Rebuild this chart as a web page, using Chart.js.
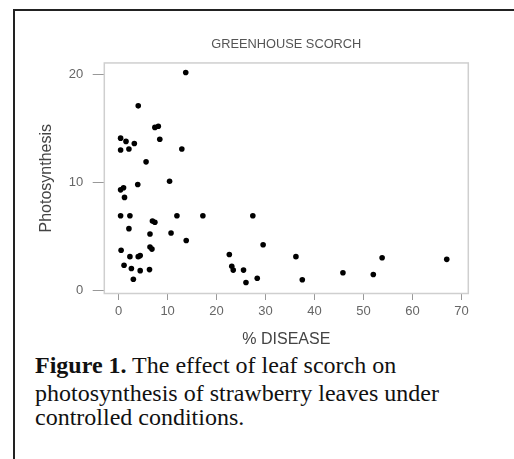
<!DOCTYPE html>
<html>
<head>
<meta charset="utf-8">
<script src="https://cdn.jsdelivr.net/npm/chart.js@4/dist/chart.umd.min.js"></script>
<style>
  body { margin: 0; background: #fff; }
  #wrap { position: relative; width: 514px; height: 459px; overflow: hidden; }
  #frame { position: absolute; left: 13px; top: 9px; right: -5px; bottom: -5px;
           border-left: 2px solid #222; border-top: 2px solid #222; }
  #chart { position: absolute; left: 0; top: 0; }
  .cap { position: absolute; left: 35px; font-family: "Liberation Serif", "Times New Roman", serif;
         font-size: 24px; line-height: 24px; color: #111; white-space: nowrap; }
</style>
</head>
<body>
<div id="wrap">
  <div id="frame"></div>
  <canvas id="chart" width="514" height="350"></canvas>
  <div class="cap" style="top:353px"><b>Figure 1.</b> The effect of leaf scorch on</div>
  <div class="cap" style="top:381px">photosynthesis of strawberry leaves under</div>
  <div class="cap" style="top:405px">controlled conditions.</div>
</div>
<script>
// % disease and photosynthesis, one entry per leaf
const disease = [13.7, 4.0, 7.4, 8.1, 8.4, 0.4, 1.5, 3.2, 2.1, 0.4, 12.9, 5.6, 10.4,
  3.9, 0.4, 1.0, 1.2, 0.4, 2.3, 11.9, 17.2, 27.4, 6.9, 7.4, 2.1, 6.4, 10.7, 13.8,
  29.5, 0.5, 6.4, 6.8, 22.6, 2.3, 4.0, 4.4, 1.1, 2.6, 4.4, 6.3, 3.0, 23.1, 23.4,
  25.5, 26.0, 28.3, 36.2, 37.5, 45.8, 52.0, 53.8, 67.0];
const photo = [20.2, 17.1, 15.1, 15.2, 14.0, 14.1, 13.8, 13.6, 13.1, 13.0, 13.1, 11.9, 10.1,
  9.8, 9.3, 9.5, 8.6, 6.9, 6.9, 6.9, 6.9, 6.9, 6.4, 6.3, 5.7, 5.2, 5.3, 4.6,
  4.2, 3.7, 4.0, 3.8, 3.3, 3.1, 3.1, 3.2, 2.3, 2.0, 1.8, 1.9, 1.0, 2.2, 1.85,
  1.85, 0.7, 1.1, 3.1, 0.95, 1.6, 1.45, 3.0, 2.85];
const xTicks = [0, 10, 20, 30, 40, 50, 60, 70];
const yTicks = [0, 10, 20];

const points = disease.map((d, i) => ({ x: d, y: photo[i] }));

// light grey box round the plot area
const boxPlugin = {
  id: 'box',
  beforeDatasetsDraw(chart) {
    const a = chart.chartArea;
    const ctx = chart.ctx;
    ctx.save();
    ctx.strokeStyle = '#cfcfcf';
    ctx.lineWidth = 1.5;
    ctx.strokeRect(a.left, a.top, a.right - a.left, a.bottom - a.top);
    ctx.restore();
  }
};

const ctx = document.getElementById('chart').getContext('2d');
new Chart(ctx, {
  type: 'scatter',
  data: {
    datasets: [{
      data: points,
      backgroundColor: '#000',
      borderColor: '#000',
      borderWidth: 0,
      pointRadius: 2.8
    }]
  },
  options: {
    responsive: false,
    animation: false,
    devicePixelRatio: 1,
    layout: { padding: { left: 0, right: 45.7, top: 0, bottom: 0 } },
    plugins: {
      legend: { display: false },
      tooltip: { enabled: false },
      title: {
        display: true,
        text: 'GREENHOUSE SCORCH',
        fullSize: false,
        color: '#555',
        font: { family: 'Liberation Sans', size: 12.8, weight: 'normal' },
        padding: { top: 36.6, bottom: 11 }
      }
    },
    scales: {
      x: {
        min: -2.93,
        max: 71.4,
        afterBuildTicks: s => { s.ticks = xTicks.map(v => ({ value: v })); },
        afterFit: s => { s.height = 56.5; },
        border: { display: false },
        grid: { drawOnChartArea: false, drawTicks: true, tickLength: 6.5, color: '#999' },
        ticks: { color: '#666', padding: 4, font: { family: 'Liberation Sans', size: 13 } },
        title: {
          display: true,
          text: '% DISEASE',
          color: '#444',
          font: { family: 'Liberation Sans', size: 16 },
          padding: { top: 0, bottom: 0.5 }
        }
      },
      y: {
        min: -0.32,
        max: 21.08,
        afterBuildTicks: s => { s.ticks = yTicks.map(v => ({ value: v })); },
        afterFit: s => { s.width = 104.3; },
        border: { display: false },
        grid: { drawOnChartArea: false, drawTicks: true, tickLength: 11.6, color: '#999' },
        ticks: { color: '#666', padding: 9.4, font: { family: 'Liberation Sans', size: 13 } },
        title: {
          display: true,
          text: 'Photosynthesis',
          color: '#444',
          font: { family: 'Liberation Sans', size: 16 },
          padding: { top: 37, bottom: 0 }
        }
      }
    }
  },
  plugins: [boxPlugin]
});
</script>
</body>
</html>
